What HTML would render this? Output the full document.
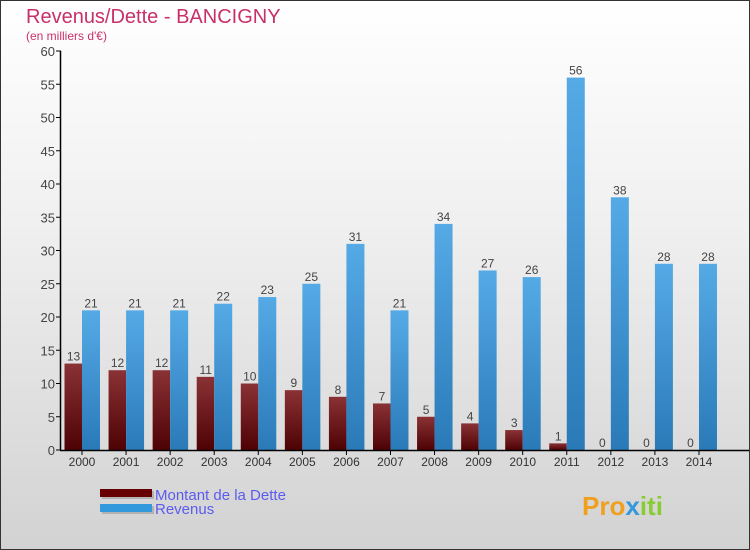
<!DOCTYPE html>
<html><head><meta charset="utf-8"><style>
body{margin:0}
#c{width:750px;height:550px;position:relative;box-sizing:border-box;border:1px solid #333;background:linear-gradient(#ffffff,#f0f0f0 40%,#d2d2d2);font-family:"Liberation Sans",sans-serif;overflow:hidden}
</style></head><body>
<div id="c">
<svg id="s" width="750" height="550" style="position:absolute;left:-1px;top:-1px">
<defs>
<linearGradient id="gd" x1="0" y1="0" x2="0" y2="1"><stop offset="0" stop-color="#8a3236"/><stop offset="1" stop-color="#4e0204"/></linearGradient>
<linearGradient id="gr" x1="0" y1="0" x2="0" y2="1"><stop offset="0" stop-color="#55aae6"/><stop offset="1" stop-color="#2a7ab8"/></linearGradient>
</defs>
<text x="26" y="23" font-size="20" fill="#c8306a">Revenus/Dette - BANCIGNY</text>
<text x="26" y="40" font-size="12" fill="#c8306a">(en milliers d'€)</text>
<g id="g"></g>
<rect x="102" y="491" width="52" height="8" fill="#999" opacity="0.6"/>
<rect x="100" y="489" width="52" height="8" fill="#660000"/>
<rect x="102" y="506" width="52" height="8" fill="#999" opacity="0.6"/>
<rect x="100" y="504" width="52" height="8" fill="#3399dd"/>
<text x="155" y="500" font-size="15" fill="#5b5bf0">Montant de la Dette</text>
<text x="155" y="514" font-size="15" fill="#5b5bf0">Revenus</text>
<text x="582" y="515" font-size="26" font-weight="bold" fill="#f0a020">Pro<tspan fill="#3399dd">x</tspan><tspan fill="#8c3">iti</tspan></text>
</svg>
</div>
<script>
const years=["2000","2001","2002","2003","2004","2005","2006","2007","2008","2009","2010","2011","2012","2013","2014"];
const dette=[13,12,12,11,10,9,8,7,5,4,3,1,0,0,0];
const revenus=[21,21,21,22,23,25,31,21,34,27,26,56,38,28,28];
const yTicks=[0,5,10,15,20,25,30,35,40,45,50,55,60];
const NS="http://www.w3.org/2000/svg";
const g=document.getElementById('g');
const y=v=>450-v*(399/60);
const xc=i=>82+i*44.07;
function mk(t,a,txt){const e=document.createElementNS(NS,t);for(const k in a)e.setAttribute(k,a[k]);if(txt!=null)e.textContent=txt;g.appendChild(e);return e;}
yTicks.forEach(v=>{
 const t=mk('line',{x1:56,x2:61,y1:y(v),y2:y(v),stroke:'#000'});
 
 
 const l=mk('text',{x:55,y:y(v)+5,'font-size':13,'text-anchor':'end',fill:'#444'},v);
 
 
});
years.forEach((yr,i)=>{
 const x=xc(i);
 const d=mk('rect',{x:x-17.5,y:y(dette[i]),width:17.5,height:450-y(dette[i]),fill:'url(#gd)'});
 
 
 const r=mk('rect',{x:x,y:y(revenus[i]),width:18,height:450-y(revenus[i]),fill:'url(#gr)'});
 
 
 const dl=mk('text',{x:x-8.5,y:y(dette[i])-3,'font-size':12,'text-anchor':'middle',fill:'#444'},dette[i]);
 
 
 const rl=mk('text',{x:x+9,y:y(revenus[i])-3,'font-size':12,'text-anchor':'middle',fill:'#444'},revenus[i]);
 
 
 const xt=mk('line',{x1:x,x2:x,y1:450,y2:455,stroke:'#000'});
 
 
 const xl=mk('text',{x:x,y:466,'font-size':12,'text-anchor':'middle',fill:'#333'},yr);
 
 
});
const ya=mk('line',{x1:60.5,x2:60.5,y1:y(60),y2:450,stroke:'#000','stroke-width':1.5});


const xa=mk('line',{x1:60,x2:750,y1:450.5,y2:450.5,stroke:'#000','stroke-width':1.5});


</script>
</body></html>
